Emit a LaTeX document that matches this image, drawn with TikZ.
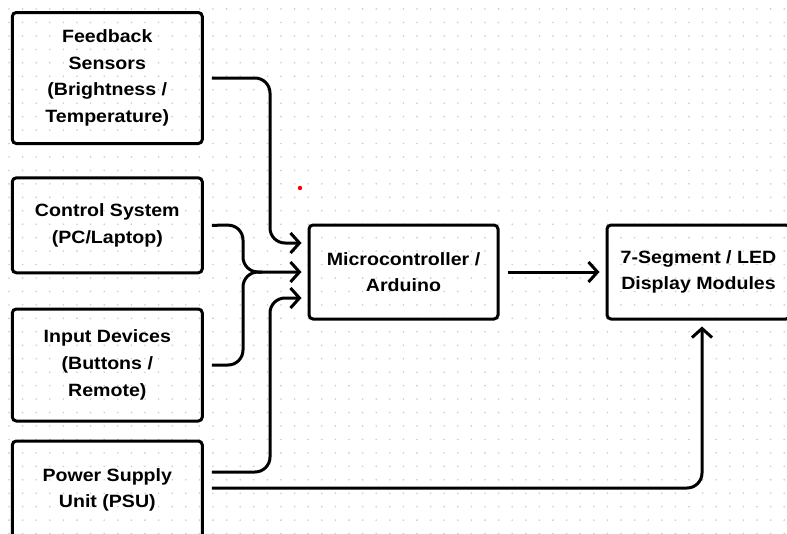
\documentclass[tikz,border=0pt]{standalone}
\usepackage{fontspec}
\setmainfont{Liberation Sans}[FakeStretch=1.1]
\usetikzlibrary{arrows.meta,calc}
\begin{document}
\begin{tikzpicture}[x=1pt,y=-1pt,
  box/.style={draw, line width=3pt, rounded corners=4pt, align=center,
    font=\bfseries\fontsize{17.8}{26.7}\selectfont, inner sep=0pt},
  conn/.style={line width=3pt, rounded corners=15pt,
    -{Straight Barb[length=9pt,width=20pt]}},
  plainconn/.style={line width=3pt, rounded corners=15pt}]
\useasboundingbox (0,0) rectangle (787,533);
\clip (0,0) rectangle (787,533);
\fill[white] (0,0) rectangle (787,533);
\foreach \i in {0,...,57} \foreach \j in {0,...,39}
  \fill[black!20] ({9+13.6*\i},{9+13.45*\j}) circle (0.9);

\node[box, minimum width=190pt, minimum height=131pt] (fb) at (107.3,78)
  {Feedback\\Sensors\\(Brightness /\\Temperature)};
\node[box, minimum width=190pt, minimum height=95pt] (ctl) at (107.3,225.3)
  {Control System\\(PC/Laptop)};
\node[box, minimum width=190pt, minimum height=112pt] (inp) at (107.3,365)
  {Input Devices\\(Buttons /\\Remote)};
\node[box, minimum width=190pt, minimum height=98pt] (psu) at (107.3,490)
  {Power Supply\\Unit (PSU)};
\node[box, minimum width=189pt, minimum height=94pt] (mc) at (403.5,272)
  {Microcontroller /\\Arduino};
\node[box, minimum width=183pt, minimum height=94pt] (seg) at (698.5,272)
  {7-Segment / LED\\Display Modules};

\draw[conn] ([xshift=8pt]fb.east) -- (270,78) -- (270,243) -- ($(mc.west)+(-6,-29)$);
\draw[plainconn] ([xshift=8pt]inp.east) -- (243,365) -- (243,272) -- (262,272);
\draw[conn] ([xshift=8pt]ctl.east) -- (243,225) -- (243,272) -- ([xshift=-6pt]mc.west);
\draw[conn] ($(psu.east)+(8,-18)$) -- (270,472) -- (270,298) -- ($(mc.west)+(-6,26)$);
\draw[conn] ($(psu.east)+(8,-2)$) -- (702,488) -- ($(seg.south)+(3.5,6)$);
\draw[conn] ([xshift=8pt]mc.east) -- ([xshift=-6pt]seg.west);

\fill[red] (300,188) circle (2.2);
\end{tikzpicture}
\end{document}
